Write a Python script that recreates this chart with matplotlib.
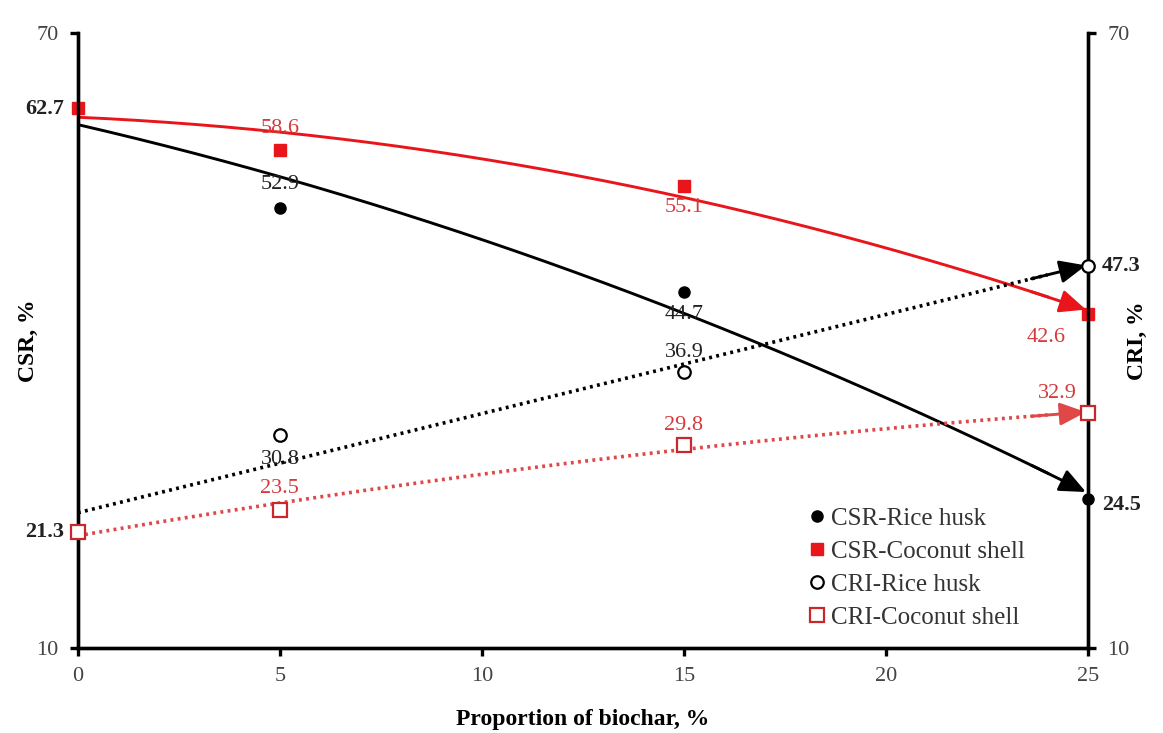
import numpy as np
import matplotlib
matplotlib.use('Agg')
import matplotlib.pyplot as plt

plt.rcParams['font.family'] = ['Liberation Serif', 'DejaVu Serif']

# Daten
biochar = [0, 5, 15, 25]
csr_rice = [62.7, 52.9, 44.7, 24.5]
csr_coco = [62.7, 58.6, 55.1, 42.6]
cri_rice = [21.3, 30.8, 36.9, 47.3]
cri_coco = [21.3, 23.5, 29.8, 32.9]
xticks = [0, 5, 10, 15, 20, 25]

RED = '#e8161b'
RED_TXT = '#d83a3c'

fig = plt.figure(figsize=(11.63, 7.33), dpi=100)
ax = fig.add_axes([0.067, 0.116, 0.8685, 0.839])
ax2 = ax.twinx()

# Trendlinien mit Pfeil am Ende
def trend(a, x, y, deg, color, ls):
    p = np.polyfit(x, y, deg)
    xs = np.linspace(0, 24.0, 200)
    a.plot(xs, np.polyval(p, xs), color=color, lw=2.1 if ls == '-' else 2.6,
           ls=ls, zorder=2)
    a.annotate('', xy=(24.95, np.polyval(p, 24.95)), xytext=(23.6, np.polyval(p, 23.6)),
               arrowprops=dict(arrowstyle='-|>,head_length=1.6,head_width=0.7',
                               color=color, lw=2.1, shrinkA=0, shrinkB=0), zorder=3)

trend(ax, biochar, csr_rice, 2, 'black', '-')
trend(ax, biochar, csr_coco, 2, RED, '-')
trend(ax2, biochar, cri_rice, 1, 'black', (0, (0.8, 1.2)))
trend(ax2, biochar, cri_coco, 2, '#e04848', (0, (0.8, 1.2)))

h1, = ax.plot(biochar, csr_rice, 'o', color='black', ms=8, ls='none', zorder=5,
              clip_on=False, label='CSR-Rice husk')
h2, = ax.plot(biochar, csr_coco, 's', color=RED, ms=9, ls='none', zorder=5,
              clip_on=False, label='CSR-Coconut shell')
h3, = ax2.plot(biochar, cri_rice, 'o', mfc='white', mec='black', mew=1.6, ms=9,
               ls='none', zorder=5, clip_on=False, label='CRI-Rice husk')
h4, = ax2.plot(biochar, cri_coco, 's', mfc='white', mec='#c8282c', mew=1.6, ms=10,
               ls='none', zorder=5, clip_on=False, label='CRI-Coconut shell')

for a in (ax, ax2):
    a.set_xlim(0, 25)
    a.set_ylim(10, 70)
    a.set_yticks([10, 70])
    a.spines['top'].set_visible(False)
    for s in ('left', 'right', 'bottom'):
        a.spines[s].set_linewidth(2.4)
    a.tick_params(width=2.4, length=6, labelsize=16, colors='black',
                  labelcolor='#444444', pad=8)
ax.set_xticks(xticks)
ax.set_xticklabels([str(t) for t in xticks])

ax.set_xlabel('Proportion of biochar, %', fontsize=17, fontweight='bold', labelpad=16)
ax.set_ylabel('CSR, %', fontsize=17, fontweight='bold', labelpad=-2)
ax2.set_ylabel('CRI, %', fontsize=17, fontweight='bold', rotation=90, labelpad=-2)

# Beschriftungen der Punkte
fs = 16
def lab(a, x, y, txt, dx, dy, color, bold=False, ha='center'):
    a.annotate(txt, (x, y), xytext=(dx, dy), textcoords='offset points',
               ha=ha, va='center', fontsize=fs, color=color,
               fontweight='bold' if bold else 'normal', zorder=6)

lab(ax, 5, csr_coco[1], '58.6', 0, 15, RED_TXT)
lab(ax, 15, csr_coco[2], '55.1', 0, -16, RED_TXT)
lab(ax, 25, csr_coco[3], '42.6', -30, -17, RED_TXT)
lab(ax, 5, csr_rice[1], '52.9', 0, 17, '#222222')
lab(ax, 15, csr_rice[2], '44.7', 0, -16, '#222222')
lab(ax, 25, csr_rice[3], '24.5', 10, -4, '#222222', bold=True, ha='left')
lab(ax, 0, csr_rice[0], '62.7', -10, -1, '#222222', bold=True, ha='right')
lab(ax2, 5, cri_rice[1], '30.8', 0, -18, '#222222')
lab(ax2, 15, cri_rice[2], '36.9', 0, 14, '#222222')
lab(ax2, 25, cri_rice[3], '47.3', 10, 0, '#222222', bold=True, ha='left')
lab(ax2, 0, cri_rice[0], '21.3', -10, 0, '#222222', bold=True, ha='right')
lab(ax2, 5, cri_coco[1], '23.5', 0, 15, RED_TXT)
lab(ax2, 15, cri_coco[2], '29.8', 0, 14, RED_TXT)
lab(ax2, 25, cri_coco[3], '32.9', -22, 14, RED_TXT)

ax2.legend(handles=[h1, h2, h3, h4], loc='lower right',
           bbox_to_anchor=(0.96, -0.005), frameon=False, fontsize=18,
           handletextpad=0.05, labelspacing=0.42, handlelength=1.0,
           labelcolor='#333333')

fig.savefig('out.png', dpi=100, facecolor='white')
